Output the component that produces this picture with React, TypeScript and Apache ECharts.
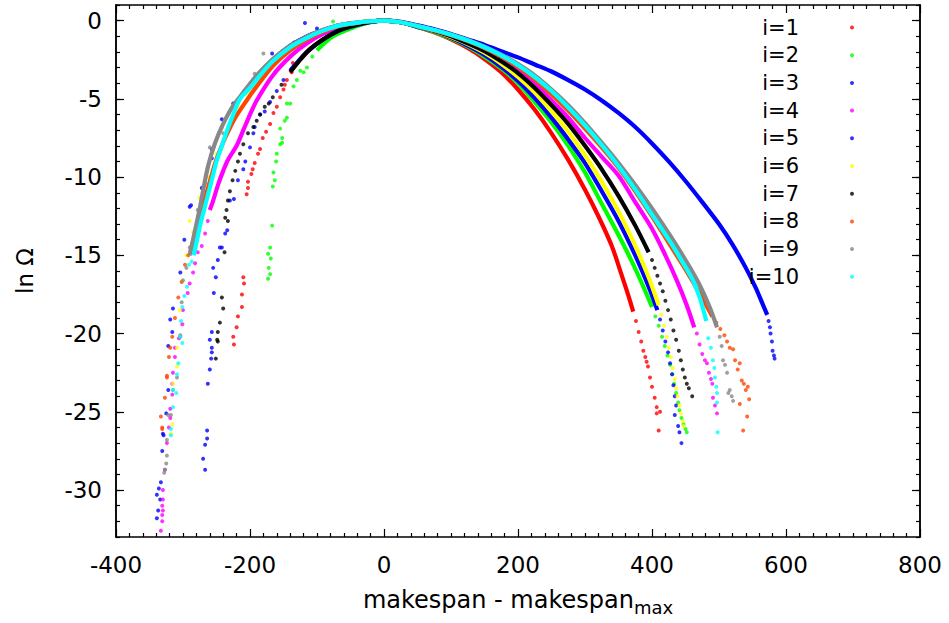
import React, { useEffect, useRef } from "react";
import * as echarts from "echarts";

const FONT = "'DejaVu Sans', sans-serif";

// ---- tick values ----
const xTicks = [-400, -200, 0, 200, 400, 600, 800];
const yMajor = [0, -5, -10, -15, -20, -25, -30];

const names = ["i=1", "i=2", "i=3", "i=4", "i=5", "i=6", "i=7", "i=8", "i=9", "i=10"];
const colors = ["#ff0000", "#00ff00", "#0000ff", "#ff00ff", "#0000ff", "#ffff00", "#000000", "#ff4500", "#888888", "#00ffff"];

// ---- dense parts (drawn as continuous bands) ----
const line1 = [[-125,-2.5],[-110,-1.8],[-91,-1.2],[-66,-0.65],[-40,-0.3],[-20,-0.08],[0,0],[25,-0.1],[50,-0.4],[75,-0.75],[100,-1.2],[125,-1.75],[150,-2.45],[175,-3.3],[200,-4.4],[225,-5.7],[250,-7.2],[275,-8.9],[300,-10.8],[320,-12.5],[340,-14.4],[355,-16.3],[365,-17.6],[372,-18.6]];
const line2 = [[-100,-1.9],[-76,-1.0],[-40,-0.35],[-20,-0.1],[0,0],[25,-0.1],[50,-0.4],[75,-0.72],[100,-1.15],[125,-1.65],[150,-2.3],[175,-3.05],[200,-4.0],[225,-5.2],[250,-6.5],[275,-8.0],[300,-9.7],[325,-11.7],[350,-13.7],[370,-15.4],[385,-16.8],[400,-18.3]];
const line3 = [[-210,-4.6],[-190,-3.6],[-166,-2.5],[-140,-1.6],[-115,-1.0],[-91,-0.6],[-66,-0.28],[-40,-0.12],[-20,-0.04],[0,0],[25,-0.08],[50,-0.3],[75,-0.55],[100,-0.85],[125,-1.2],[150,-1.55],[175,-1.95],[200,-2.35],[225,-2.8],[250,-3.25],[275,-3.8],[300,-4.4],[325,-5.1],[350,-5.9],[375,-6.8],[400,-7.85],[425,-9.0],[450,-10.25],[475,-11.6],[500,-13.0],[520,-14.3],[540,-15.8],[555,-17.1],[565,-18.1],[572,-18.8]];
const line4 = [[-260,-12.1],[-255,-11.5],[-247,-10.4],[-240,-9.6],[-233,-8.9],[-220,-8.0],[-210,-7.0],[-200,-6.0],[-190,-5.1],[-166,-3.5],[-140,-2.3],[-115,-1.45],[-91,-0.85],[-66,-0.45],[-40,-0.2],[-20,-0.06],[0,0],[25,-0.1],[50,-0.36],[75,-0.64],[100,-0.97],[125,-1.38],[150,-1.85],[175,-2.45],[200,-3.15],[225,-4.0],[250,-5.1],[275,-6.2],[300,-7.5],[325,-8.7],[350,-9.9],[375,-11.6],[400,-13.3],[420,-15.0],[437,-16.6],[452,-18.2],[463,-19.6]];
const line5 = [[-140,-3.2],[-115,-2.0],[-91,-1.2],[-66,-0.62],[-40,-0.27],[-20,-0.08],[0,0],[25,-0.1],[50,-0.4],[75,-0.7],[100,-1.1],[125,-1.6],[150,-2.2],[175,-2.95],[200,-3.85],[225,-4.95],[250,-6.2],[275,-7.6],[300,-9.1],[325,-10.9],[350,-12.8],[375,-15.0],[395,-17.0],[408,-18.5]];
const line6 = [[-207,-4.7],[-190,-3.6],[-166,-2.5],[-140,-1.65],[-115,-1.05],[-91,-0.62],[-66,-0.3],[-40,-0.13],[-20,-0.04],[0,0],[25,-0.1],[50,-0.38],[75,-0.68],[100,-1.05],[125,-1.5],[150,-2.05],[175,-2.75],[200,-3.6],[225,-4.6],[250,-5.8],[275,-7.1],[300,-8.6],[325,-10.3],[350,-12.2],[375,-14.4],[395,-16.4],[410,-18.2]];
const line7 = [[-140,-3.3],[-115,-2.0],[-91,-1.2],[-66,-0.6],[-40,-0.25],[-20,-0.07],[0,0],[25,-0.1],[50,-0.37],[75,-0.66],[100,-1.0],[125,-1.45],[150,-1.95],[175,-2.6],[200,-3.35],[225,-4.3],[250,-5.4],[275,-6.6],[300,-8.0],[325,-9.5],[350,-11.2],[375,-13.1],[395,-14.8]];
const line8 = [[-289,-14.8],[-283,-13.8],[-276,-12.7],[-270,-11.8],[-264,-10.9],[-258,-10.0],[-252,-9.1],[-245,-8.3],[-235,-7.3],[-222,-6.2],[-205,-5.1],[-190,-4.2],[-166,-2.9],[-140,-1.9],[-115,-1.2],[-91,-0.7],[-66,-0.33],[-40,-0.15],[-20,-0.04],[0,0],[25,-0.1],[50,-0.35],[75,-0.62],[100,-0.93],[125,-1.3],[150,-1.75],[175,-2.3],[200,-2.95],[225,-3.75],[250,-4.7],[275,-5.75],[300,-6.9],[325,-8.1],[350,-9.4],[375,-10.9],[400,-12.5],[425,-14.2],[450,-15.9],[472,-17.5],[490,-18.9]];
const line9 = [[-290,-15.0],[-283,-13.6],[-275,-12.0],[-268,-10.4],[-262,-9.2],[-252,-7.8],[-240,-6.6],[-226,-5.5],[-210,-4.6],[-190,-3.5],[-166,-2.45],[-140,-1.6],[-115,-1.05],[-91,-0.6],[-66,-0.3],[-40,-0.13],[-20,-0.04],[0,0],[25,-0.1],[50,-0.34],[75,-0.6],[100,-0.88],[125,-1.24],[150,-1.66],[175,-2.17],[200,-2.78],[225,-3.5],[250,-4.4],[275,-5.4],[300,-6.55],[325,-7.8],[350,-9.1],[375,-10.5],[400,-12.0],[425,-13.6],[450,-15.3],[470,-16.8],[486,-18.3],[497,-19.6]];
const line10 = [[-284,-15.0],[-279,-14.0],[-274,-13.0],[-268,-12.0],[-262,-11.0],[-256,-10.0],[-250,-9.0],[-242,-8.0],[-234,-7.0],[-225,-6.0],[-215,-5.0],[-200,-4.3],[-185,-3.5],[-166,-2.6],[-140,-1.7],[-115,-1.1],[-91,-0.64],[-66,-0.3],[-40,-0.13],[-20,-0.04],[0,0],[25,-0.1],[50,-0.35],[75,-0.6],[100,-0.9],[125,-1.27],[150,-1.7],[175,-2.22],[200,-2.85],[225,-3.6],[250,-4.5],[275,-5.55],[300,-6.7],[325,-7.95],[350,-9.3],[375,-10.8],[400,-12.4],[425,-14.0],[445,-15.4],[461,-16.6],[472,-17.8],[481,-19.2]];

// ---- sparse parts (individual dots) ----
const dots1 = [[-107,-0.85],[-128,-1.4],[-136,-2.7],[-138,-3.3],[-145,-3.8],[-148,-4.1],[-150,-4.4],[-155,-4.9],[-160,-5.5],[-165,-5.9],[-170,-6.6],[-176,-7.1],[-181,-7.5],[-185,-8.2],[-188,-8.5],[-193,-9.1],[-196,-9.5],[-198,-9.8],[-203,-10.3],[-203,-10.7],[-205,-11.1],[-210,-16.4],[-209,-16.8],[-212,-17.5],[-212,-18.3],[-218,-18.9],[-220,-19.6],[-225,-20.2],[-224,-20.7],[376,-19.2],[380,-19.9],[384,-20.5],[387,-21.1],[390,-21.5],[392,-21.8],[394,-22.1],[397,-22.8],[400,-23.4],[404,-24.1],[407,-24.7],[412,-25.0],[407,-25.1],[410,-26.2]];
const dots2 = [[-76,-0.05],[-107,-2.3],[-115,-3.0],[-120,-3.3],[-125,-3.2],[-130,-3.8],[-135,-4.2],[-140,-5.3],[-145,-5.3],[-148,-6.4],[-145,-6.2],[-155,-6.9],[-152,-7.5],[-152,-7.8],[-155,-7.9],[-160,-8.5],[-161,-9.0],[-165,-9.7],[-163,-10.2],[-166,-10.6],[-167,-13.1],[-170,-14.5],[-173,-14.9],[-169,-15.2],[-172,-15.8],[-170,-16.2],[-173,-16.5],[405,-18.9],[410,-19.5],[415,-20.2],[419,-20.8],[423,-21.4],[427,-22.0],[430,-22.6],[433,-23.2],[436,-23.8],[439,-24.4],[441,-24.9],[444,-25.4],[447,-25.8],[450,-26.1],[452,-26.3]];
const dots3 = [[-118,-0.15],[-100,-0.5],[-134,-1.4],[-167,-2.1],[-225,-5.3],[-242,-6.3],[-257,-8.2],[-257,-8.8],[-272,-10.7],[-288,-11.8],[-290,-11.9],[-298,-14.0],[-304,-16.1],[-315,-18.4],[-319,-19.1],[-316,-19.9],[-322,-20.8],[-322,-23.6],[-325,-25.1],[-330,-26.4],[-329,-26.5],[-331,-27.5],[-333,-29.5],[-336,-29.9],[-339,-30.3],[-334,-30.6],[-337,-31.3],[-339,-31.8],[574,-19.2],[576,-19.6],[577,-20.0],[579,-20.5],[580,-21.1],[582,-21.4],[583,-21.6]];
const dots4 = [[-263,-12.8],[-267,-13.6],[-272,-14.4],[-278,-14.8],[-282,-15.5],[-285,-16.1],[-290,-16.8],[-293,-17.4],[-300,-18.5],[-301,-19.4],[-306,-20.3],[-312,-20.9],[-312,-21.5],[-315,-22.5],[-316,-23.2],[-316,-23.9],[-319,-24.8],[-319,-25.4],[-321,-26.0],[-324,-27.0],[-327,-28.7],[-330,-30.0],[-330,-30.6],[-331,-31.0],[-330,-31.3],[-331,-31.6],[-331,-32.0],[-333,-32.6],[467,-20.0],[471,-20.7],[475,-21.3],[479,-21.7],[482,-21.9],[485,-22.5],[488,-22.9],[490,-23.2],[491,-24.1],[494,-24.6],[497,-25.1]];
const dots5 = [[-150,-3.8],[-160,-4.5],[-170,-5.2],[-178,-5.8],[-185,-6.0],[-193,-6.8],[-195,-7.2],[-200,-8.1],[-207,-9.0],[-210,-9.5],[-218,-10.2],[-224,-11.4],[-230,-11.5],[-234,-13.4],[-237,-13.6],[-242,-14.5],[-245,-14.5],[-248,-15.3],[-255,-15.8],[-251,-16.4],[-254,-17.4],[-257,-19.9],[-260,-20.4],[-257,-20.9],[-257,-21.2],[-258,-21.6],[-260,-22.3],[-263,-23.2],[-264,-26.2],[-264,-26.7],[-267,-27.1],[-270,-28.0],[-267,-28.7],[412,-19.1],[416,-19.8],[420,-20.5],[424,-21.2],[427,-21.9],[430,-22.6],[432,-23.3],[434,-24.0],[436,-24.6],[434,-25.2],[439,-25.9],[441,-26.3],[444,-27.0]];
const dots6 = [[-207,-4.7],[-215,-5.5],[-242,-6.9],[-250,-8.5],[-262,-10.0],[-275,-11.3],[-272,-11.4],[-290,-12.8],[-285,-13.5],[-295,-15.0],[-301,-16.6],[-305,-18.5],[-309,-20.9],[-309,-22.1],[-315,-23.2],[-316,-25.8],[-318,-26.4],[414,-18.8],[418,-19.5],[422,-20.2],[425,-20.9],[428,-21.5],[431,-22.2],[434,-22.9],[436,-23.5],[438,-24.0],[441,-24.6],[443,-25.1],[446,-25.6],[447,-25.9]];
const dots7 = [[-153,-4.1],[-166,-4.9],[-172,-5.3],[-178,-5.5],[-185,-6.0],[-190,-6.4],[-195,-6.8],[-203,-7.2],[-210,-7.9],[-215,-8.5],[-218,-9.0],[-222,-9.6],[-226,-10.2],[-230,-10.9],[-233,-11.5],[-235,-12.1],[-237,-12.6],[-233,-12.8],[-238,-14.8],[-242,-17.7],[-240,-18.4],[-245,-19.3],[-248,-19.9],[-249,-20.4],[-248,-20.5],[-251,-21.6],[400,-15.3],[404,-15.8],[408,-16.3],[412,-16.8],[416,-17.3],[420,-17.9],[424,-18.5],[428,-19.1],[432,-19.8],[436,-20.4],[440,-21.1],[443,-21.7],[446,-22.3],[449,-22.8],[452,-23.2],[455,-23.5],[460,-24.0]];
const dots8 = [[-292,-15.0],[-297,-15.6],[-302,-16.7],[-307,-17.7],[-312,-19.0],[-316,-20.2],[-319,-20.9],[-321,-21.5],[-324,-22.7],[-324,-22.8],[-327,-24.1],[-333,-25.3],[-331,-26.0],[-331,-26.1],[496,-19.3],[502,-19.7],[508,-20.1],[512,-20.5],[516,-20.9],[521,-21.0],[524,-21.7],[528,-22.3],[531,-21.9],[534,-23.0],[537,-23.2],[540,-23.6],[543,-23.4],[545,-24.2],[531,-24.5],[542,-25.3],[536,-26.2]];
const dots9 = [[-180,-2.1],[-193,-3.4],[-190,-3.5],[-240,-7.2],[-260,-8.1],[-264,-9.6],[-267,-10.4],[-278,-12.1],[-290,-14.5],[-295,-15.8],[-300,-16.6],[-302,-18.0],[-304,-20.1],[-304,-20.2],[-309,-22.8],[-315,-23.6],[-318,-25.2],[-322,-25.2],[-324,-26.8],[-324,-27.8],[-325,-28.3],[-327,-28.7],[-328,-28.9],[501,-20.2],[504,-20.8],[506,-21.7],[509,-22.0],[512,-22.5],[514,-23.8],[516,-23.6],[519,-24.0],[521,-24.3]];
const dots10 = [[-287,-15.4],[-291,-15.6],[-294,-17.0],[-298,-17.6],[-301,-18.3],[-303,-19.2],[-304,-20.2],[-301,-20.6],[-307,-21.9],[-309,-22.6],[-315,-23.6],[-310,-23.8],[-315,-24.7],[-318,-26.1],[-318,-26.5],[484,-20.3],[488,-20.9],[491,-21.7],[493,-22.2],[494,-22.8],[496,-23.4],[497,-23.8],[497,-24.4],[498,-26.3]];

const lines = [line1, line2, line3, line4, line5, line6, line7, line8, line9, line10];
const dots = [dots1, dots2, dots3, dots4, dots5, dots6, dots7, dots8, dots9, dots10];

export default function App() {
  const ref = useRef<HTMLDivElement>(null);
  useEffect(() => {
    if (!ref.current) return;
    const chart = echarts.init(ref.current, null, { renderer: "svg" });
    const series: any[] = [];
    names.forEach((n, k) => {
      series.push({
        name: "_band" + (k + 1),
        type: "line",
        data: lines[k],
        showSymbol: false,
        smooth: 0.3,
        lineStyle: { color: colors[k], width: 4.2 },
        itemStyle: { color: colors[k] },
        silent: true,
        z: 2 + k * 0.01,
      });
      series.push({
        name: n,
        type: "scatter",
        data: dots[k],
        symbol: "circle",
        symbolSize: 4,
        itemStyle: { color: colors[k] },
        silent: true,
        z: 2 + k * 0.01,
      });
    });
    const axisLine = { show: true, onZero: false, lineStyle: { color: "#000", width: 1.5 } };
    const tickLine = { color: "#000", width: 1.2 };
    const yBase = { type: "value", min: -33, max: 1, splitLine: { show: false }, axisLine };
    chart.setOption({
      animation: false,
      backgroundColor: "#fff",
      grid: { left: 116, right: 29, top: 5, bottom: 86, containLabel: false },
      legend: {
        data: names,
        orient: "vertical",
        align: "right",
        right: 95,
        top: 17,
        padding: 0,
        itemWidth: 4,
        itemHeight: 4,
        itemGap: 6.7,
        selectedMode: false,
        icon: "circle",
        textStyle: { fontFamily: FONT, fontSize: 21, color: "#000", lineHeight: 20, padding: [0, 46, 0, 0] },
      },
      xAxis: [
        {
          type: "value", min: -400, max: 800, interval: 200, position: "bottom",
          axisLine, axisTick: { inside: true, length: 8, lineStyle: tickLine },
          minorTick: { show: true, splitNumber: 10, length: 4, lineStyle: tickLine },
          splitLine: { show: false }, minorSplitLine: { show: false },
          axisLabel: { fontFamily: FONT, fontSize: 23, color: "#000", margin: 16, customValues: xTicks },
          name: "{a|makespan - makespan}{s|max}",
          nameLocation: "middle",
          nameGap: 51,
          nameTextStyle: {
            fontFamily: FONT, color: "#000",
            rich: {
              a: { fontFamily: FONT, fontSize: 24, lineHeight: 24, verticalAlign: "top", color: "#000" },
              s: { fontFamily: FONT, fontSize: 18, lineHeight: 18, padding: [15, 0, 0, 0], color: "#000" },
            },
          },
        },
        {
          type: "value", min: -400, max: 800, interval: 200, position: "top",
          axisLine, axisTick: { inside: true, length: 8, lineStyle: tickLine },
          minorTick: { show: true, splitNumber: 10, length: 4, lineStyle: tickLine },
          splitLine: { show: false }, axisLabel: { show: false },
        },
      ],
      yAxis: [
        {
          ...yBase, position: "left", interval: 1,
          axisTick: { show: true, inside: true, length: 4, lineStyle: tickLine },
          axisLabel: { fontFamily: FONT, fontSize: 23, color: "#000", margin: 14, customValues: yMajor },
          name: "ln Ω", nameLocation: "middle", nameGap: 80, nameRotate: 90,
          nameTextStyle: { fontFamily: FONT, fontSize: 23, color: "#000" },
        },
        {
          ...yBase, position: "left",
          axisTick: { show: true, inside: true, length: 8, lineStyle: tickLine, customValues: yMajor },
          axisLabel: { show: false },
        },
        {
          ...yBase, position: "right", interval: 1,
          axisTick: { show: true, inside: true, length: 4, lineStyle: tickLine },
          axisLabel: { show: false },
        },
        {
          ...yBase, position: "right",
          axisTick: { show: true, inside: true, length: 8, lineStyle: tickLine, customValues: yMajor },
          axisLabel: { show: false },
        },
      ],
      series,
    });
    return () => chart.dispose();
  }, []);
  return (
    <div
      ref={ref}
      style={{ position: "fixed", left: 0, top: 0, width: 949, height: 623, background: "#fff" }}
    />
  );
}
